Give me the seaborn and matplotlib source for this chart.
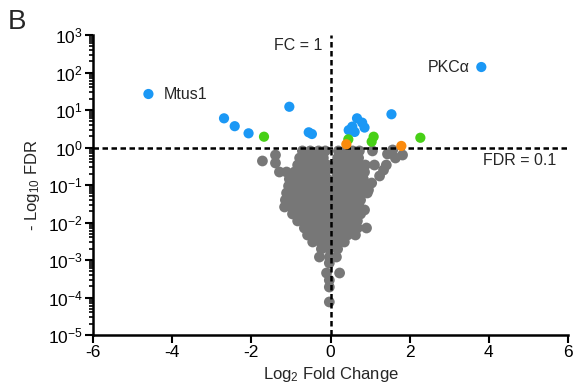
import matplotlib
matplotlib.use("Agg")
import matplotlib.pyplot as plt
import numpy as np
import pandas as pd
import seaborn as sns
from matplotlib.ticker import LogLocator, NullFormatter, FixedLocator

# ---------------- data (log2 fold change, -log10 FDR) ----------------
blue_fc = [-4.60, 3.81, -2.69, -2.42, -2.07, -1.04, -0.55, -0.47,
           0.67, 0.80, 0.86, 0.55, 0.46, 0.61, 1.54]
blue_y = [26.7, 140.0, 6.0, 3.7, 2.39, 12.2, 2.54, 2.29,
          6.0, 4.6, 3.4, 3.6, 2.9, 2.6, 7.7]

green_fc = [-1.68, 0.45, 1.09, 1.04, 2.27]
green_y = [1.94, 1.65, 1.94, 1.43, 1.82]

orange_fc = [0.40, 1.79]
orange_y = [1.22, 1.10]

gray_fc = [
    1.57, 1.82,
    -0.71, -0.51, -0.30, -0.13, 0.20, 0.38, 0.56, 0.73, 1.06,
    -1.39, 1.44,
    -0.78, -0.58, -0.38, -0.18, 0.18, 0.35, 0.53, 0.71, 1.64,
    -1.72, -1.39,
    -0.83, -0.63, -0.43, -0.23, -0.08, 0.15, 0.33, 0.51, 0.68, 0.88, 1.11, 1.41,
    1.34,
    -1.29, -1.11, -0.91, -0.71, -0.51, -0.30, -0.13, 0.15, 0.33, 0.51, 0.68, 0.86, 1.24,
    -1.04, -0.83, -0.63, -0.43, -0.23, -0.08, 0.13, 0.30, 0.48, 0.66, 0.83,
    1.04,
    -1.06, -0.88, -0.68, -0.48, -0.28, -0.10, 0.10, 0.28, 0.45, 0.63, 0.81,
    0.96,
    -1.11, -0.93, -0.73, -0.53, -0.33, -0.13, 0.08, 0.25, 0.43, 0.61, 0.78, 0.93,
    -1.14, -0.96, -0.76, -0.56, -0.35, -0.15, 0.05, 0.23, 0.40, 0.58, 0.76,
    -1.16, -0.98, -0.78, -0.58, -0.38, -0.18, 0.03, 0.20, 0.38, 0.56, 0.73,
    0.86,
    -0.96, -0.76, -0.56, -0.35, -0.15, 0.05, 0.23, 0.40, 0.58, 0.76,
    -0.83, -0.63, -0.43, -0.23, -0.03, 0.18, 0.38, 0.58, 0.68,
    -0.66, -0.48, -0.28, -0.08, 0.13, 0.33, 0.53, 0.68, 0.91,
    -0.58, -0.38, -0.18, 0.03, 0.23, 0.43, 0.63,
    -0.45, -0.25, -0.05, 0.15, 0.35,
    -0.23, -0.03, 0.18,
    -0.28, -0.03, 0.15,
    -0.03,
    -0.10, 0.23,
    -0.03,
    -0.03,
    -0.03,
]
gray_y = [
    0.86, 0.63,
    0.81, 0.81, 0.81, 0.81, 0.81, 0.81, 0.81, 0.81, 0.81,
    0.63, 0.67,
    0.525, 0.525, 0.525, 0.525, 0.525, 0.525, 0.525, 0.525, 0.525,
    0.437, 0.386,
    0.341, 0.341, 0.341, 0.341, 0.341, 0.341, 0.341, 0.341, 0.341, 0.341, 0.341, 0.341,
    0.25,
    0.222, 0.222, 0.222, 0.222, 0.222, 0.222, 0.222, 0.222, 0.222, 0.222, 0.222, 0.222, 0.174,
    0.1445, 0.1445, 0.1445, 0.1445, 0.1445, 0.1445, 0.1445, 0.1445, 0.1445, 0.1445, 0.1445,
    0.113,
    0.094, 0.094, 0.094, 0.094, 0.094, 0.094, 0.094, 0.094, 0.094, 0.094, 0.094,
    0.0736,
    0.0612, 0.0612, 0.0612, 0.0612, 0.0612, 0.0612, 0.0612, 0.0612, 0.0612, 0.0612, 0.0612, 0.0612,
    0.0398, 0.0398, 0.0398, 0.0398, 0.0398, 0.0398, 0.0398, 0.0398, 0.0398, 0.0398, 0.0398,
    0.0259, 0.0259, 0.0259, 0.0259, 0.0259, 0.0259, 0.0259, 0.0259, 0.0259, 0.0259, 0.0259,
    0.0216,
    0.0169, 0.0169, 0.0169, 0.0169, 0.0169, 0.0169, 0.0169, 0.0169, 0.0169, 0.0169,
    0.011, 0.011, 0.011, 0.011, 0.011, 0.011, 0.011, 0.011, 0.011,
    0.00713, 0.00713, 0.00713, 0.00713, 0.00713, 0.00713, 0.00713, 0.00713, 0.00713,
    0.00464, 0.00464, 0.00464, 0.00464, 0.00464, 0.00464, 0.00464,
    0.00302, 0.00302, 0.00302, 0.00302, 0.00302,
    0.00197, 0.00197, 0.00197,
    0.0012, 0.0012, 0.0012,
    0.00083,
    0.00045, 0.00045,
    0.00029,
    0.00019,
    0.000076,
]

x_ticks = [-6, -4, -2, 0, 2, 4, 6]
fc_threshold = 0.0
fdr_threshold = 1.0

# ---------------- style ----------------
sns.set_style("ticks")
plt.rcParams['font.family'] = ['Liberation Sans', 'DejaVu Sans']
plt.rcParams['mathtext.fontset'] = 'custom'
plt.rcParams['mathtext.rm'] = 'Liberation Sans'
plt.rcParams['mathtext.it'] = 'Liberation Sans:italic'
plt.rcParams['mathtext.default'] = 'regular'
plt.rcParams['axes.unicode_minus'] = False

df = pd.concat([
    pd.DataFrame({'fc': gray_fc, 'y': gray_y, 'grp': 'ns'}),
    pd.DataFrame({'fc': blue_fc, 'y': blue_y, 'grp': 'blue'}),
    pd.DataFrame({'fc': green_fc, 'y': green_y, 'grp': 'green'}),
    pd.DataFrame({'fc': orange_fc, 'y': orange_y, 'grp': 'orange'}),
], ignore_index=True)

palette = {'ns': '#777777', 'blue': '#1b98f5', 'green': '#47d016', 'orange': '#fb8b0e'}

fig = plt.figure(figsize=(5.75, 3.89), dpi=100)
ax = fig.add_axes([93/575, 1-335/389, (568-93)/575, 300/389])
ax.set_yscale('log')

sns.scatterplot(data=df[df.grp == 'ns'], x='fc', y='y', hue='grp', palette=palette,
                s=60, linewidth=0, alpha=1, legend=False, ax=ax, zorder=2)

ax.axvline(fc_threshold, color='black', lw=1.8, ls=(0, (2.2, 1.4)), zorder=3)
ax.axhline(fdr_threshold, color='black', lw=1.8, ls=(0, (2.2, 1.4)), zorder=3)

sns.scatterplot(data=df[df.grp != 'ns'], x='fc', y='y', hue='grp', palette=palette,
                s=54, linewidth=0, alpha=1, legend=False, ax=ax, zorder=4)

ax.set_xlim(-6, 6)
ax.set_ylim(1e-5, 1e3)
ax.xaxis.set_major_locator(FixedLocator(x_ticks))
ax.yaxis.set_major_locator(LogLocator(base=10, numticks=20))
ax.yaxis.set_minor_locator(LogLocator(base=10, subs=np.arange(2, 10), numticks=20))
ax.yaxis.set_minor_formatter(NullFormatter())

for s in ['top', 'right']:
    ax.spines[s].set_visible(False)
for s in ['left', 'bottom']:
    ax.spines[s].set_linewidth(1.8)
    ax.spines[s].set_color('black')

ax.tick_params(axis='both', which='major', length=5.5, width=1.5, labelsize=12.5,
               colors='black', pad=2)
ax.tick_params(axis='y', which='minor', length=3, width=1.2, colors='black')

ax.set_xlabel('Log$_2$ Fold Change', fontsize=12, labelpad=3)
ax.set_ylabel('- Log$_{10}$ FDR', fontsize=12, labelpad=4)

ax.text(-0.2, 540, 'FC = 1', ha='right', va='center', fontsize=11.5)
ax.text(5.71, 0.46, 'FDR = 0.1', ha='right', va='center', fontsize=11.5)
ax.text(-4.22, 26.7, 'Mtus1', ha='left', va='center', fontsize=11.5)
ax.text(3.51, 140, 'PKCα', ha='right', va='center', fontsize=11.5)

fig.text(8/575, 1-22/389, 'B', ha='left', va='center', fontsize=20)

fig.savefig('out.png', dpi=100)
